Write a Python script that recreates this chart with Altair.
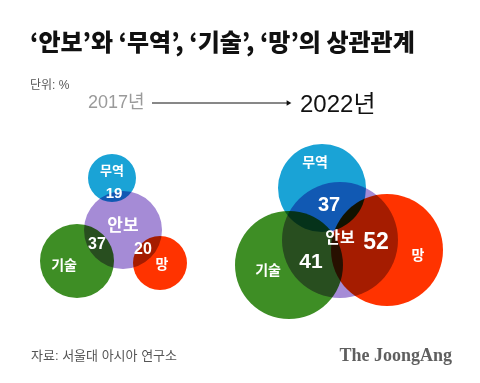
import altair as alt
import pandas as pd

# --- data ---
groups = ["2017", "2017", "2017", "2017", "2022", "2022", "2022", "2022"]
circles = ["안보", "무역", "기술", "망", "안보", "무역", "기술", "망"]
cx = [123, 112, 77, 160, 340, 322, 289, 387]
cy = [230, 178, 261, 263, 240, 188, 265, 250]
radius = [39, 24, 37, 27, 58, 44, 54, 56]
colors = ["#a58bd6", "#1aa3d6", "#3e8e25", "#ff3300", "#a58bd6", "#1aa3d6", "#3e8e25", "#ff3300"]

# overlap values (%) with 안보
pairs_2017 = ["무역", "기술", "망"]
values_2017 = [19, 37, 20]
pairs_2022 = ["무역", "기술", "망"]
values_2022 = [37, 41, 52]

FONT = "Liberation Sans, Noto Sans CJK KR"
KFONT = "Noto Sans CJK KR"

circ_df = pd.DataFrame({"group": groups, "name": circles, "x": cx, "y": cy,
                        "r": radius, "color": colors})

X = alt.X("x:Q", scale=alt.Scale(domain=[8, 462]), axis=None)
Y = alt.Y("y:Q", scale=alt.Scale(domain=[8, 368], reverse=True), axis=None)

circ = alt.Chart(circ_df).transform_calculate(size="4*datum.r*datum.r").mark_point(
    shape="circle", filled=True, opacity=1, blend="multiply", strokeWidth=0
).encode(
    x=X, y=Y,
    size=alt.Size("size:Q", scale=None, legend=None),
    color=alt.Color("color:N", scale=None, legend=None),
)

# labels for circles
lab_df = pd.DataFrame({
    "t": ["무역", "안보", "기술", "망", "무역", "안보", "기술", "망"],
    "x": [112, 123, 64, 162, 315, 340, 268, 418],
    "y": [171, 226, 266, 265, 163, 238, 271, 256],
    "fs": [13, 17, 14, 14, 14, 16, 14, 14],
})
labels = alt.Chart(lab_df).mark_text(font=KFONT, fontWeight="bold", color="white").encode(
    x=X, y=Y, text="t:N", size=alt.Size("fs:Q", scale=None, legend=None)
)

num_df = pd.DataFrame({
    "v": values_2017 + values_2022,
    "x": [114, 97, 143, 329, 311, 376],
    "y": [193, 244, 249, 205, 262, 242],
    "fs": [15, 16, 16, 20, 21, 23],
})
nums = alt.Chart(num_df).mark_text(font=FONT, fontWeight="bold", color="white").encode(
    x=X, y=Y, text="v:Q", size=alt.Size("fs:Q", scale=None, legend=None)
)

# header texts
title = alt.Chart(pd.DataFrame({"t": ["‘안보’와 ‘무역’, ‘기술’, ‘망’의 상관관계"],
                                "x": [30], "y": [44]})).mark_text(
    font=KFONT, fontWeight=900, fontSize=24, color="#111111", align="left",
    baseline="middle").encode(x=X, y=Y, text="t:N")

hdr_df = pd.DataFrame({
    "t": ["단위: %", "2017년", "2022년", "자료: 서울대 아시아 연구소"],
    "x": [30, 88, 300, 31],
    "y": [85, 103, 105, 356],
    "fs": [12, 18, 24, 13],
    "c": ["#555555", "#9a9a9a", "#111111", "#555555"],
})
hdr_norm = alt.Chart(hdr_df).mark_text(
    font=FONT, align="left", baseline="middle").encode(
    x=X, y=Y, text="t:N", size=alt.Size("fs:Q", scale=None, legend=None),
    color=alt.Color("c:N", scale=None, legend=None))

logo = alt.Chart(pd.DataFrame({"t": ["The JoongAng"], "x": [452], "y": [356]})).mark_text(
    font="Liberation Serif", fontWeight="bold", fontSize=18, color="#5f5f5f",
    align="right", baseline="middle").encode(x=X, y=Y, text="t:N")

arrow_line = alt.Chart(pd.DataFrame({"x": [152], "x2": [287], "y": [103]})).mark_rule(
    color="#111111", strokeWidth=1).encode(x=X, x2="x2:Q", y=Y)
arrow_head = alt.Chart(pd.DataFrame({"x": [289], "y": [103]})).mark_point(
    shape="triangle-right", filled=True, size=30, color="#111111", opacity=1).encode(x=X, y=Y)

chart = alt.layer(circ, labels, nums, title, hdr_norm, logo, arrow_line, arrow_head).properties(
    width=454, height=360, padding=0, autosize=alt.AutoSizeParams(type="none")
).configure(background="white").configure_view(stroke="transparent", strokeWidth=0, strokeOpacity=0)

chart.save("out.html", embed_options={"renderer": "svg", "actions": False})
